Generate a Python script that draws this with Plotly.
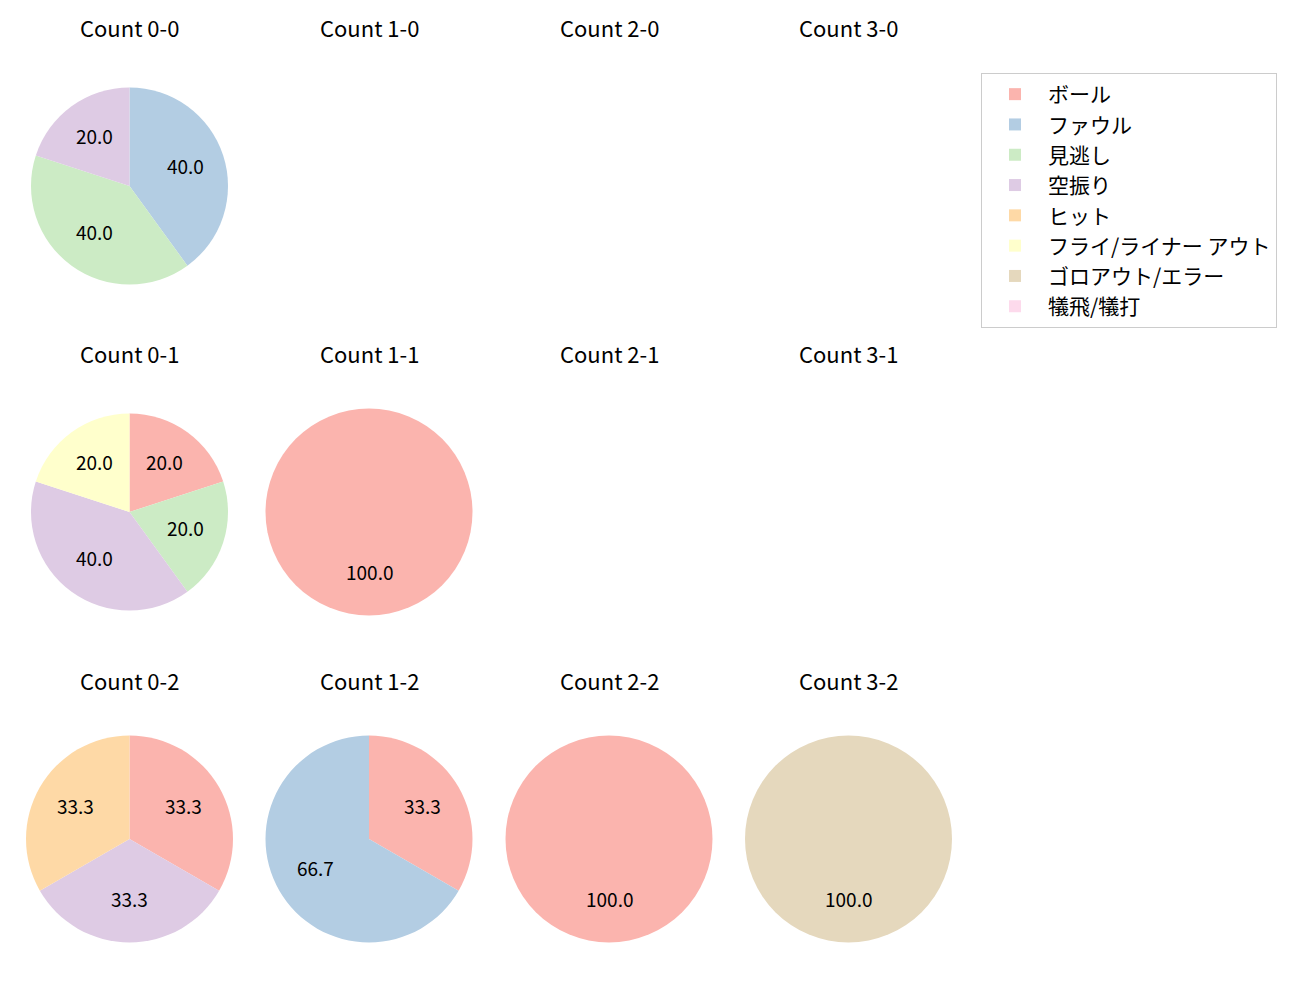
import math
import plotly.graph_objects as go

categories = ["ボール", "ファウル", "見逃し", "空振り", "ヒット",
              "フライ/ライナー アウト", "ゴロアウト/エラー", "犠飛/犠打"]
colors = ["#fbb4ae", "#b3cde3", "#ccebc5", "#decbe4", "#fed9a6",
          "#ffffcc", "#e5d8bd", "#fddaec"]

# counts per ball-strike count (balls-strikes), in category order
count_00 = [0, 2, 2, 1, 0, 0, 0, 0]
count_10 = [0, 0, 0, 0, 0, 0, 0, 0]
count_20 = [0, 0, 0, 0, 0, 0, 0, 0]
count_30 = [0, 0, 0, 0, 0, 0, 0, 0]
count_01 = [1, 0, 1, 2, 0, 1, 0, 0]
count_11 = [1, 0, 0, 0, 0, 0, 0, 0]
count_21 = [0, 0, 0, 0, 0, 0, 0, 0]
count_31 = [0, 0, 0, 0, 0, 0, 0, 0]
count_02 = [1, 0, 0, 1, 1, 0, 0, 0]
count_12 = [1, 2, 0, 0, 0, 0, 0, 0]
count_22 = [1, 0, 0, 0, 0, 0, 0, 0]
count_32 = [0, 0, 0, 0, 0, 0, 1, 0]

grid = [
    [("Count 0-0", count_00), ("Count 1-0", count_10), ("Count 2-0", count_20), ("Count 3-0", count_30)],
    [("Count 0-1", count_01), ("Count 1-1", count_11), ("Count 2-1", count_21), ("Count 3-1", count_31)],
    [("Count 0-2", count_02), ("Count 1-2", count_12), ("Count 2-2", count_22), ("Count 3-2", count_32)],
]

W, H = 1300, 1000
col_cx = [129.5, 369, 609, 848.5]
row_cy = [186, 512, 839]
title_y = [27, 353, 680]

fig = go.Figure()
annotations = []
legend_done = False
for r, row in enumerate(grid):
    for c, (title, vals) in enumerate(row):
        cx, cy = col_cx[c], row_cy[r]
        annotations.append(dict(
            x=cx / W, y=1 - title_y[r] / H, xref="paper", yref="paper",
            text=title, showarrow=False, xanchor="center", yanchor="middle",
            font=dict(size=22, color="#000000")))
        total = sum(vals)
        if total == 0:
            continue
        rad = 98.5 if (c == 0 and r < 2) else 103.5
        fig.add_trace(go.Pie(
            labels=categories, values=vals,
            textinfo="none",
            marker=dict(colors=colors, line=dict(width=0)),
            sort=False, direction="clockwise", rotation=0,
            showlegend=not legend_done, hoverinfo="label+percent",
            domain=dict(x=[(cx - rad) / W, (cx + rad) / W],
                        y=[1 - (cy + rad) / H, 1 - (cy - rad) / H]),
        ))
        legend_done = True
        # percentage labels at 0.6 radius, slice mid-angle (clockwise from top)
        cum = 0.0
        for v in vals:
            if v <= 0:
                continue
            mid = (cum + v / 2) / total * 2 * math.pi
            cum += v
            lx = cx + 0.6 * rad * math.sin(mid)
            ly = cy - 0.6 * rad * math.cos(mid)
            annotations.append(dict(
                x=lx / W, y=1 - ly / H, xref="paper", yref="paper",
                text=f"{v / total * 100:.1f}", showarrow=False,
                xanchor="center", yanchor="middle", yshift=2.5,
                font=dict(size=19, color="#000000")))

fig.update_layout(
    width=W, height=H,
    margin=dict(l=0, r=0, t=0, b=0),
    paper_bgcolor="white", plot_bgcolor="white",
    font=dict(family="Noto Sans CJK JP, Noto Sans, sans-serif", size=19, color="#000000"),
    annotations=annotations,
    legend=dict(x=981 / W, y=1 - 73 / H, xanchor="left", yanchor="top",
                bordercolor="#cccccc", borderwidth=1, bgcolor="white",
                font=dict(size=21, color="#000000"), traceorder="normal",
                itemwidth=56),
)

fig.write_html("out.html")
